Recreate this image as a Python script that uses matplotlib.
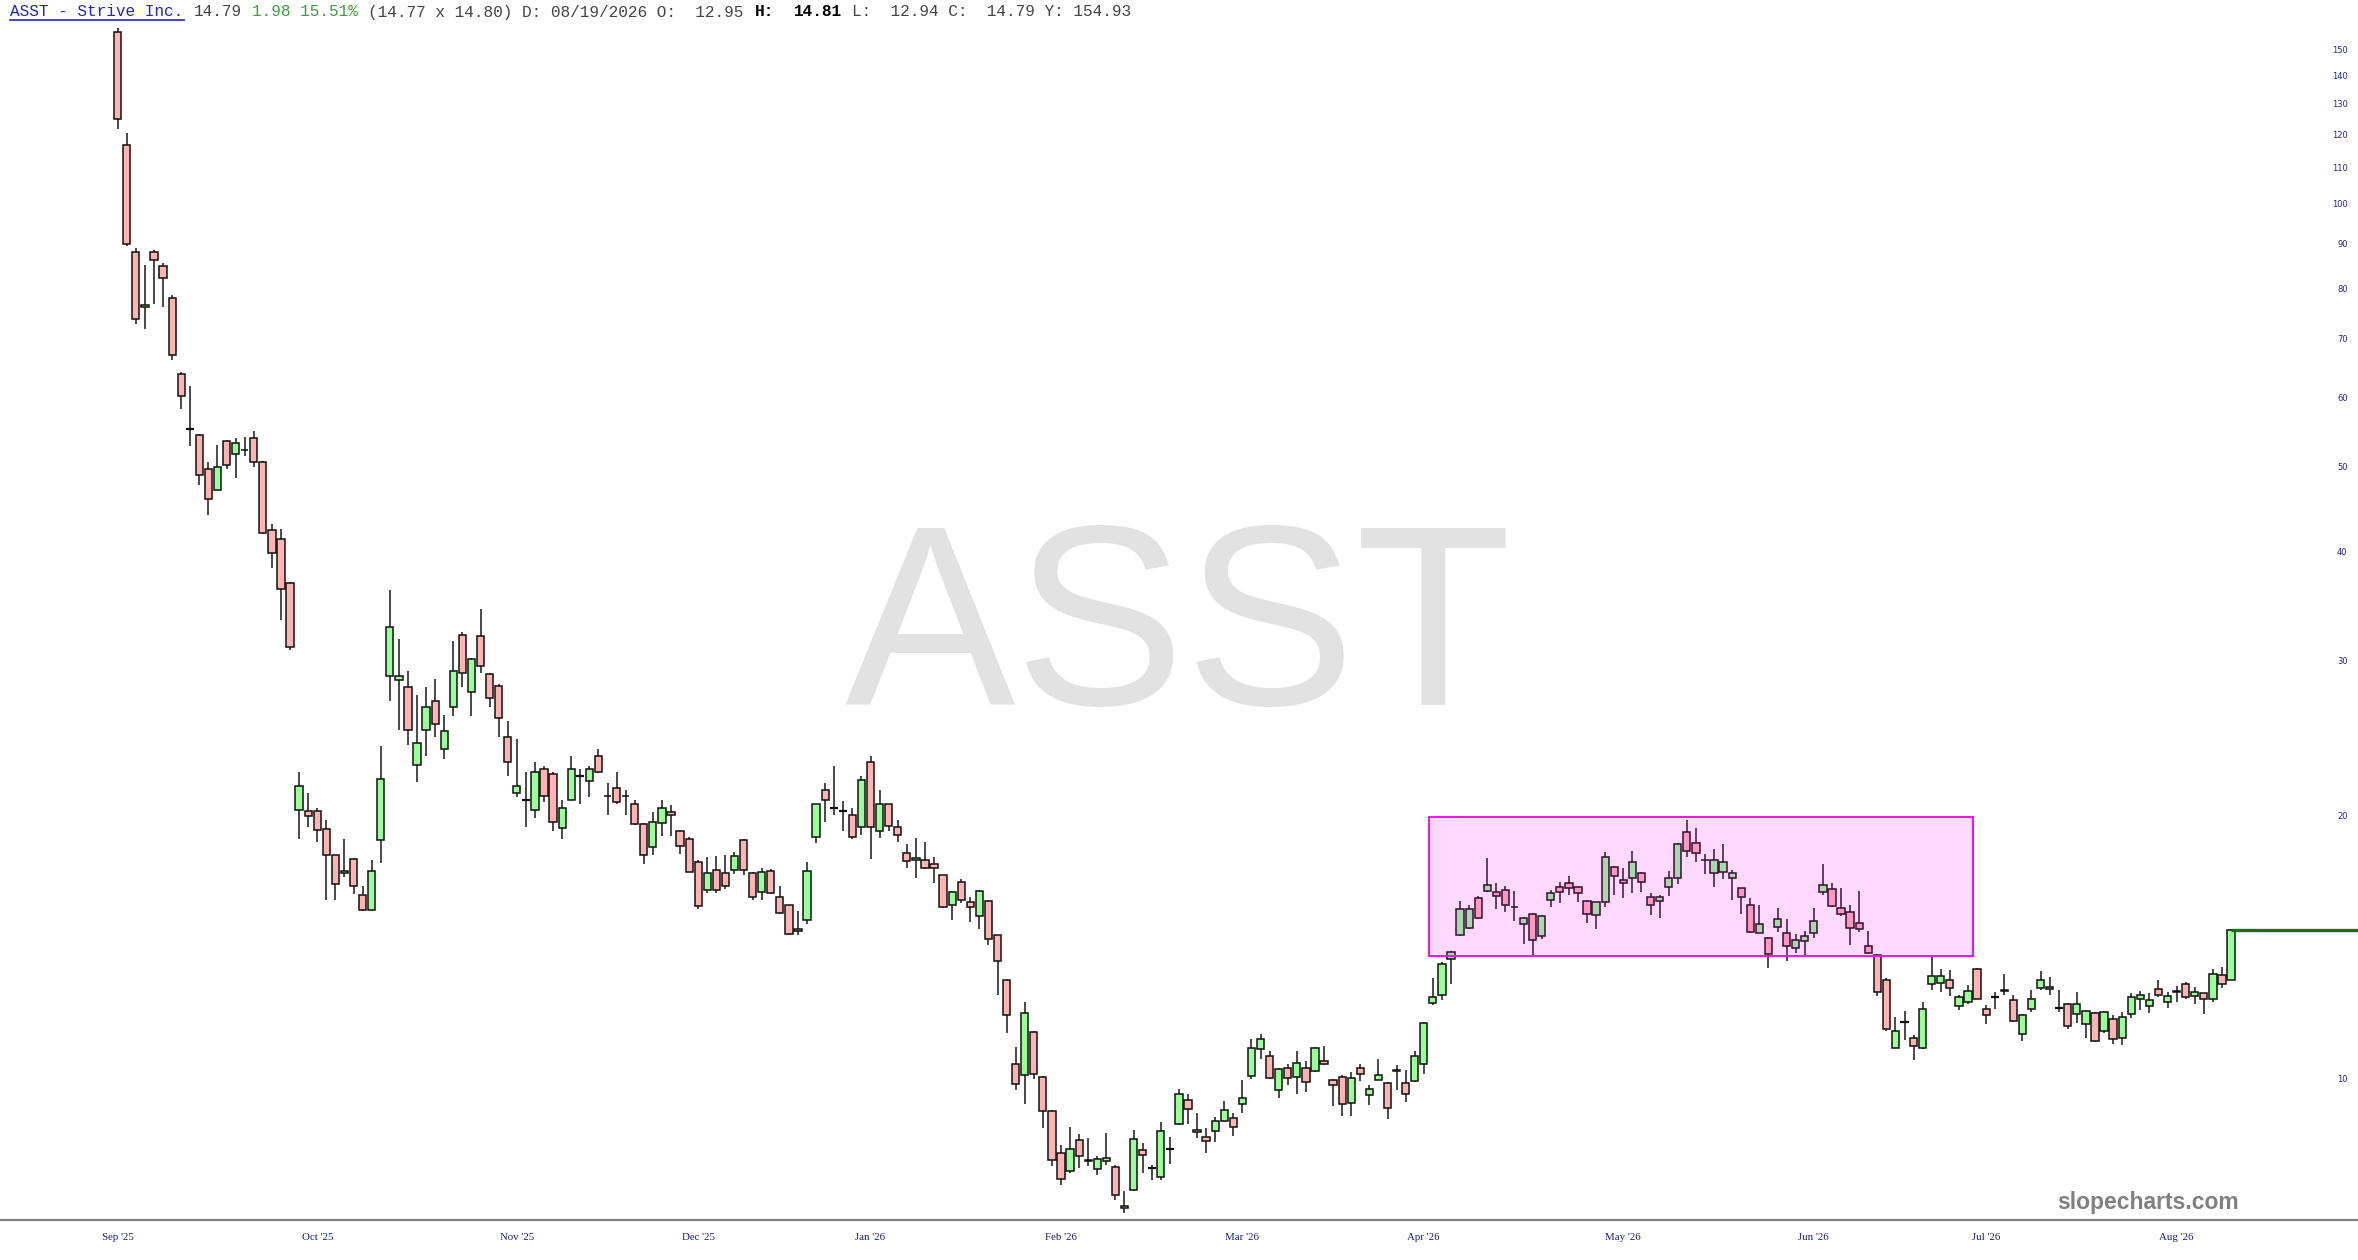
import matplotlib.pyplot as plt
import numpy as np
from matplotlib.patches import Rectangle
from matplotlib.ticker import NullLocator

# ASST daily candles, Sep '25 -> 08/19/2026
opens = [157, 116.5, 88, 76.2, 88.1, 84.9, 78, 63.9, 55.2, 54.3,
         49.7, 47.1, 53.5, 51.7, 52.2, 53.9, 50.7, 42.3, 41.4, 36.8,
         20.27, 20.19, 20.19, 19.26, 17.98, 17.18, 17.81, 16.19, 15.58, 18.72,
         28.8, 28.53, 27.99, 22.8, 25.0, 27.0, 23.78, 26.6, 32.08, 27.62,
         32.0, 29.0, 28.1, 24.57, 21.2, 20.8, 20.29, 22.57, 22.28, 19.31,
         20.8, 22.18, 21.89, 23.38, 21.02, 21.48, 21.03, 20.58, 19.53, 18.38,
         19.61, 20.17, 19.19, 18.78, 17.68, 16.42, 17.3, 17.17, 17.29, 18.73,
         17.17, 16.33, 17.27, 16.11, 15.77, 14.82, 15.17, 18.87, 21.38, 20.38,
         20.19, 19.98, 19.39, 22.97, 19.17, 20.57, 19.39, 18.11, 17.79, 17.79,
         17.56, 17.07, 15.79, 16.78, 15.89, 15.34, 15.97, 14.58, 12.96, 10.4,
         10.1, 11.29, 10.04, 9.18, 8.21, 7.83, 8.5, 8.06, 7.88, 8.05,
         7.92, 7.11, 7.45, 8.29, 7.91, 7.72, 8.31, 8.87, 9.44, 8.73,
         8.58, 8.71, 8.94, 9.02, 9.35, 10.07, 10.8, 10.6, 9.69, 10.28,
         10.03, 10.27, 10.19, 10.47, 9.97, 10.03, 9.38, 10.29, 9.58, 9.97,
         9.87, 10.19, 9.89, 9.93, 10.4, 12.2, 12.47, 13.68, 14.58, 14.84,
         16.08, 16.37, 16.35, 16.42, 15.72, 15.0, 15.43, 14.56, 15.99, 16.53,
         16.71, 16.56, 15.96, 15.39, 15.89, 17.45, 16.86, 16.93, 17.17, 16.12,
         15.95, 16.56, 16.96, 19.13, 18.56, 17.78, 17.17, 17.22, 16.93, 16.49,
         15.78, 14.68, 14.49, 14.9, 14.65, 14.1, 14.35, 14.65, 16.33, 16.45,
         15.64, 15.5, 15.06, 14.18, 13.85, 12.95, 10.84, 11.61, 11.11, 10.82,
         12.82, 12.87, 12.97, 12.1, 12.23, 13.35, 11.99, 12.38, 12.62, 12.28,
         11.23, 11.99, 12.7, 12.73, 12.05, 12.16, 11.86, 11.53, 11.89, 11.33,
         11.68, 11.11, 11.86, 12.33, 12.11, 12.67, 12.23, 12.55, 12.83, 12.41,
         12.51, 12.33, 13.14, 12.95]
highs = [158.5, 120.5, 89, 85, 88.5, 85.4, 78.5, 64.2, 61.8, 54.5,
         50.6, 53.0, 53.6, 53.9, 54.1, 54.9, 50.8, 43, 42.5, 36.9,
         22.37, 21.18, 20.38, 19.73, 18.0, 18.77, 17.85, 16.58, 17.77, 23.98,
         36.2, 31.77, 29.18, 27.4, 28.0, 28.6, 26.0, 31.6, 32.35, 30.2,
         34.4, 29.1, 28.2, 25.59, 24.4, 22.37, 22.99, 22.77, 22.37, 20.79,
         23.38, 22.6, 22.78, 23.78, 21.77, 22.37, 21.38, 20.8, 19.6, 20.17,
         20.79, 20.56, 19.25, 18.9, 17.77, 17.92, 17.95, 17.98, 18.15, 18.78,
         17.2, 17.38, 17.34, 16.58, 15.8, 15.55, 17.68, 20.6, 21.78, 22.77,
         20.76, 20.36, 22.18, 23.38, 21.38, 20.6, 19.73, 18.51, 18.84, 18.65,
         17.89, 17.1, 16.37, 16.89, 16.11, 16.4, 16.0, 14.6, 12.98, 10.85,
         12.22, 11.32, 10.06, 9.2, 8.4, 8.79, 8.65, 8.55, 8.15, 8.67,
         7.96, 7.43, 8.73, 8.43, 7.96, 8.92, 8.58, 9.72, 9.59, 9.12,
         8.78, 9.04, 9.42, 9.14, 9.96, 11.08, 11.24, 10.74, 10.28, 10.39,
         10.75, 10.47, 10.87, 10.89, 9.99, 10.1, 10.17, 10.4, 9.84, 10.52,
         9.9, 10.36, 10.22, 10.74, 11.59, 13.03, 13.57, 13.99, 15.95, 15.8,
         16.17, 17.87, 16.73, 16.6, 16.37, 15.3, 15.45, 15.39, 16.42, 16.75,
         17.03, 16.6, 16.0, 15.92, 18.14, 17.5, 17.38, 18.2, 17.2, 16.3,
         16.22, 17.27, 18.59, 19.73, 19.34, 18.03, 18.27, 18.52, 17.29, 16.52,
         16.08, 15.78, 14.52, 15.64, 15.21, 14.61, 14.74, 15.68, 17.56, 16.71,
         16.49, 15.78, 16.37, 14.74, 13.88, 13.01, 11.76, 11.94, 11.21, 12.23,
         13.77, 13.35, 13.3, 12.47, 12.78, 13.37, 12.13, 12.54, 13.18, 12.45,
         11.85, 12.63, 13.28, 13.06, 12.63, 12.21, 12.56, 11.97, 11.92, 11.94,
         11.81, 11.92, 12.53, 12.58, 12.53, 12.95, 12.54, 12.74, 12.89, 12.71,
         12.53, 13.33, 13.41, 14.81]
lows = [121.5, 89.3, 72.9, 71.9, 76.8, 76.1, 66.2, 58.2, 52.8, 47.7,
        44.1, 47.0, 49.7, 48.6, 51.4, 50.0, 41.9, 38.3, 33.4, 30.9,
        18.78, 19.39, 18.62, 15.99, 15.99, 17.0, 16.23, 15.55, 15.55, 17.65,
        27.0, 25.0, 24.02, 21.8, 23.38, 24.57, 23.17, 25.97, 27.99, 25.97,
        29.03, 26.6, 24.57, 22.18, 20.98, 19.39, 19.86, 20.68, 19.19, 18.8,
        20.78, 20.6, 20.98, 22.35, 19.98, 20.6, 19.98, 19.5, 17.6, 18.0,
        18.92, 18.92, 18.03, 17.2, 15.62, 16.31, 16.29, 16.48, 17.11, 17.09,
        16.0, 16.0, 16.23, 15.4, 14.6, 14.57, 15.0, 18.6, 19.64, 19.99,
        19.19, 18.78, 18.96, 17.81, 18.84, 19.19, 18.65, 17.38, 16.96, 17.35,
        16.71, 15.67, 15.17, 15.87, 15.11, 14.82, 14.19, 12.45, 11.26, 9.69,
        9.34, 9.99, 8.78, 7.94, 7.55, 7.8, 7.89, 7.95, 7.75, 7.96,
        7.27, 7.01, 7.43, 7.79, 7.65, 7.65, 7.98, 8.84, 8.87, 8.56,
        8.21, 8.46, 8.92, 8.6, 9.13, 9.98, 10.53, 9.98, 9.49, 9.84,
        9.59, 9.64, 10.17, 10.37, 9.3, 9.06, 9.06, 9.94, 9.32, 9.95,
        8.98, 9.7, 9.41, 9.9, 10.13, 12.13, 12.29, 12.81, 14.56, 14.8,
        15.2, 16.35, 15.62, 15.5, 15.14, 14.26, 13.79, 14.42, 15.69, 15.85,
        16.2, 15.89, 15.06, 14.8, 15.72, 16.2, 16.06, 16.28, 16.35, 15.39,
        15.27, 16.17, 16.67, 17.89, 17.66, 17.13, 16.56, 16.89, 15.99, 15.43,
        14.68, 14.66, 13.38, 14.7, 13.63, 13.92, 13.77, 14.49, 16.2, 15.69,
        15.34, 14.2, 14.7, 13.86, 12.43, 11.33, 10.82, 11.06, 10.51, 10.8,
        12.62, 12.56, 12.43, 11.97, 12.16, 12.32, 11.55, 12.0, 12.45, 11.6,
        11.04, 11.92, 12.61, 12.47, 11.92, 11.4, 11.57, 11.13, 11.02, 11.27,
        10.96, 10.93, 11.73, 11.97, 11.88, 12.38, 12.04, 12.23, 12.31, 12.17,
        11.85, 12.23, 12.7, 12.94]
closes = [125, 89.8, 73.7, 76.5, 86.1, 82.1, 67.1, 60.3, 55.2, 48.9,
          46.0, 50.0, 50.3, 53.3, 52.3, 50.7, 42.0, 39.9, 36.3, 31.1,
          21.58, 19.93, 19.21, 17.99, 16.67, 17.25, 16.59, 15.58, 17.25, 21.98,
          32.8, 28.8, 25.0, 24.18, 26.6, 25.41, 24.98, 29.18, 29.03, 30.17,
          29.6, 27.2, 25.79, 22.99, 21.58, 20.8, 22.37, 21.0, 19.65, 20.38,
          22.57, 22.18, 22.57, 22.39, 21.0, 20.71, 21.0, 19.53, 18.0, 19.65,
          20.36, 19.98, 18.43, 17.22, 15.75, 17.17, 16.42, 16.6, 17.96, 17.29,
          16.1, 17.22, 16.29, 15.46, 14.63, 14.74, 17.27, 20.58, 20.8, 20.38,
          20.19, 18.89, 21.96, 19.39, 20.57, 19.43, 18.96, 17.7, 17.84, 17.38,
          17.38, 15.7, 16.35, 15.99, 15.7, 16.39, 14.45, 13.63, 11.83, 9.85,
          11.88, 10.13, 9.18, 8.07, 7.68, 8.31, 8.16, 8.05, 8.1, 8.12,
          7.35, 7.14, 8.52, 8.17, 7.91, 8.71, 8.31, 9.6, 9.23, 8.68,
          8.49, 8.95, 9.2, 8.8, 9.51, 10.84, 11.08, 10.0, 10.24, 10.0,
          10.42, 9.91, 10.82, 10.39, 9.84, 9.35, 10.0, 10.13, 9.73, 10.1,
          9.25, 10.22, 9.61, 10.6, 11.56, 12.4, 13.51, 13.95, 15.6, 15.6,
          15.27, 16.63, 16.17, 15.78, 15.7, 15.26, 14.39, 15.34, 16.28, 16.35,
          16.49, 16.28, 15.43, 15.89, 17.92, 17.04, 16.73, 17.68, 16.78, 15.78,
          16.12, 16.96, 18.53, 18.2, 18.08, 17.77, 17.77, 17.66, 17.17, 16.1,
          14.7, 15.0, 13.88, 15.2, 14.18, 14.39, 14.56, 15.13, 16.63, 15.75,
          15.43, 14.84, 14.8, 13.92, 12.54, 11.38, 11.33, 11.61, 10.89, 11.99,
          13.09, 13.09, 12.7, 12.38, 12.58, 12.34, 11.81, 12.38, 12.6, 11.63,
          11.83, 12.31, 12.97, 12.65, 12.05, 11.47, 12.16, 11.95, 11.04, 11.92,
          11.09, 11.76, 12.4, 12.45, 12.28, 12.46, 12.43, 12.6, 12.38, 12.55,
          12.31, 13.17, 12.81, 14.79]

month_labels = ["Sep '25", "Oct '25", "Nov '25", "Dec '25", "Jan '26", "Feb '26",
                "Mar '26", "Apr '26", "May '26", "Jun '26", "Jul '26", "Aug '26"]
month_start_idx = [0, 22, 44, 64, 83, 104, 124, 144, 166, 187, 206, 227]
price_ticks = [10, 20, 30, 40, 50, 60, 70, 80, 90, 100, 110, 120, 130, 140, 150]

# pink consolidation box: candle index span and price span
box_from, box_to = 144.6, 204.6
box_low, box_high = 13.8, 19.9

W, H = 2358, 1260
fig = plt.figure(figsize=(W / 100, H / 100), dpi=100)
ax = fig.add_axes([0, 40 / H, 1, 1220 / H])

x = np.arange(len(opens))
o, hi, lo, c = map(np.array, (opens, highs, lows, closes))
up, down, flat = c > o, c < o, c == o
b_lo, b_hi = np.minimum(o, c), np.maximum(o, c)

ax.vlines(x, lo, hi, color='#2a2a2a', lw=1.2, zorder=2)
ax.bar(x[up], b_hi[up] - b_lo[up], bottom=b_lo[up], width=0.8,
       color='#99ff99', edgecolor='#111111', linewidth=1.1, zorder=3)
ax.bar(x[down], b_hi[down] - b_lo[down], bottom=b_lo[down], width=0.8,
       color='#ffb3b3', edgecolor='#111111', linewidth=1.1, zorder=3)
ax.hlines(c[flat], x[flat] - 0.45, x[flat] + 0.45, color='#111111', lw=1.6, zorder=3)

ax.add_patch(Rectangle((box_from, box_low), box_to - box_from, box_high - box_low,
                       facecolor=(1, 0, 1, 0.15), edgecolor='#ee11ee', lw=1.4, zorder=4))

x_max = 247.0
ax.hlines(closes[-1], x[-1], x_max, color='#007a00', lw=2.4, zorder=5)

ax.set_yscale('log')
ax.set_xlim(-12.98, x_max)
ax.set_ylim(6.89, 170.8)

ax.text(0.4995, 0.4225, 'ASST', transform=ax.transAxes, fontsize=184, color='#e2e2e2',
        ha='center', va='baseline', family='Liberation Sans', zorder=0)

# axes / ticks
for s in ('top', 'left', 'right'):
    ax.spines[s].set_visible(False)
ax.spines['bottom'].set_color('#808080')
ax.spines['bottom'].set_linewidth(1.6)

ax.set_xticks(month_start_idx)
ax.set_xticklabels(month_labels, family='Liberation Serif', fontsize=7.8, color='#1a1a80')
ax.tick_params(axis='x', length=0, pad=9)

ax.yaxis.tick_right()
ax.set_yticks(price_ticks)
ax.set_yticklabels([str(v) for v in price_ticks], family='DejaVu Sans', fontsize=6,
                   color='#22229a')
ax.yaxis.set_minor_locator(NullLocator())
ax.tick_params(axis='y', which='both', length=0, pad=-7.5)
for lbl in ax.get_yticklabels():
    lbl.set_ha('right')

# header line (monospace, placed by character column)
header = [("ASST - Strive Inc.", '#2323c8', 'normal'),
          (" 14.79 ", '#444444', 'normal'),
          ("1.98 15.51%", '#3b9e3b', 'normal'),
          (" (14.77 x 14.80) D: 08/19/2026 O:  12.95 ", '#444444', 'normal'),
          ("H:", '#000000', 'bold'),
          ("  ", '#000000', 'normal'),
          ("14.81", '#000000', 'bold'),
          (" L:  12.94 C:  14.79 Y: 154.93", '#444444', 'normal')]
col = 0
for txt, color, weight in header:
    lead = len(txt) - len(txt.lstrip(' '))
    if txt.strip():
        fig.text((10.5 + 9.67 * (col + lead)) / W, 1 - 16.5 / H, txt.strip(),
                 family='Liberation Mono', fontsize=11.6, color=color, weight=weight,
                 ha='left', va='baseline')
    col += len(txt)
fig.add_artist(plt.Line2D([10 / W, 184 / W], [1 - 20 / H, 1 - 20 / H],
                          color='#2323c8', lw=1.2))

fig.text(2148.5 / W, (H - 1209) / H, 'slopecharts.com', family='Liberation Sans',
         weight='bold', fontsize=16.5, color='#808080', ha='center', va='baseline')

fig.savefig('out.png', dpi=100)
